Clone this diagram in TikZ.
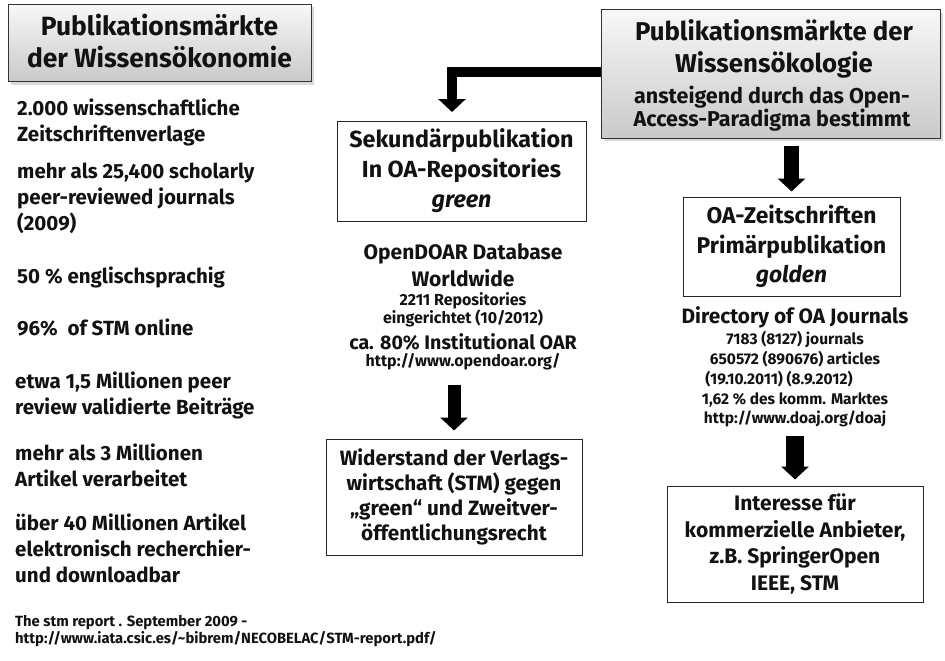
\documentclass[tikz,border=0pt]{standalone}
\usepackage{fontspec}
\setmainfont{Fira Sans}
\usetikzlibrary{arrows.meta,shadows}
\newcommand{\fs}[2]{\fontsize{#1}{#2}\selectfont\bfseries}
\begin{document}
\begin{tikzpicture}[x=1pt,y=-1pt,
  every node/.style={inner sep=0pt, align=center, text=black!93},
  graybox/.style={draw=black!80, line width=1pt, top color=gray!6, bottom color=gray!42,
    drop shadow={shadow xshift=3pt, shadow yshift=-3pt, opacity=0.3}},
  wbox/.style={draw=black!85, line width=1pt, fill=white},
  bigarrow/.style={line width=#1, -{Triangle[width=27pt,length=13pt]}},
  bigarrow/.default=13pt,
  leftitem/.style={anchor=west, align=left, font=\fs{20.5}{26}},
]
\useasboundingbox (0,0) rectangle (945,661);

% arrows (drawn first, boxes cover their starts)
\coordinate (elbstart) at (620,72);
\coordinate (sektip) at (452,112);
\draw[bigarrow=10pt, line join=miter] (elbstart) -| (sektip);

% boxes
\node[graybox, minimum width=303, minimum height=77] (tl) at (159.5,43) {};
\node[font=\fs{26.4}{32}] (tlt) at (159.5,41) {Publikationsmärkte\\der Wissensökonomie};

\node[graybox, minimum width=339, minimum height=128] (tr) at (770.5,74) {};
\node[font=\fs{25.8}{32}] (trt) at (774,49) {Publikationsmärkte der\\Wissensökologie};
\node[font=\fs{21.5}{23}] (trs) at (772,108.5) {ansteigend durch das Open-\\Access-Paradigma bestimmt};

\node[wbox, minimum width=249, minimum height=100, font=\fs{23.3}{30}] (sek) at (461.5,171)
  {Sekundärpublikation\\In OA-Repositories\\\itshape green};

\node[font=\fs{21}{27}] (od1) at (463,265.5) {OpenDOAR Database\\Worldwide};
\node[font=\fs{16}{17}] (od2) at (463,310) {2211 Repositories\\eingerichtet (10/2012)};
\node[font=\fs{19.6}{20}] (od3) at (463,342) {ca. 80\% Institutional OAR};
\node[font=\fs{16}{17}] (od4) at (463,362) {http://www.opendoar.org/};

\node[wbox, minimum width=256, minimum height=116, font=\fs{20.7}{25}] (wid) at (454,497)
  {Widerstand der Verlags-\\wirtschaft (STM) gegen\\„green“ und Zweitver-\\öffentlichungsrecht};

\node[wbox, minimum width=217, minimum height=99, font=\fs{22.8}{29.5}] (oaz) at (791.5,246.5)
  {OA-Zeitschriften\\Primärpublikation\\\itshape golden};

\node[font=\fs{20.8}{24}] (dj1) at (795,317) {Directory of OA Journals};
\node[font=\fs{15.5}{19.75}] (dj2) at (795,379.5)
  {7183 (8127) journals\\650572 (890676) articles\\\mbox{(19.10.2011) (8.9.2012)\hspace{32pt}}\\1,62 \% des komm. Marktes\\http://www.doaj.org/doaj};

\node[wbox, minimum width=256, minimum height=116, font=\fs{21}{26.5}] (int) at (795,544)
  {Interesse für\\kommerzielle Anbieter,\\z.B. SpringerOpen\\IEEE, STM};

% straight arrows
\draw[bigarrow=13pt] (wid.north |- 0,385) -- ([yshift=8pt]wid.north);
\path (oaz.north |- tr.south) ++(0,7) coordinate (a3s);
\draw[bigarrow=15pt] (a3s) -- ([yshift=5pt]oaz.north);
\draw[bigarrow=18pt] (int.north |- 0,436) -- ([yshift=6pt]int.north);

% left column
\node[leftitem] (l1) at (17,122.5) {2.000 wissenschaftliche\\Zeitschriftenverlage};
\node[leftitem] (l2) at (17,198.5) {mehr als 25,400 scholarly\\peer-reviewed journals\\(2009)};
\node[leftitem] (l3) at (17,277) {50 \% englischsprachig};
\node[leftitem] (l4) at (17,328) {96\%\ \ of STM online};
\node[leftitem] (l5) at (15,395.5) {etwa 1,5 Millionen peer\\review validierte Beiträge};
\node[leftitem] (l6) at (15,465) {mehr als 3 Millionen\\Artikel verarbeitet};
\node[leftitem] (l7) at (15,548.5) {über 40 Millionen Artikel\\elektronisch recherchier-\\und downloadbar};
\node[anchor=west, align=left, font=\fs{14.8}{17}] (ref) at (15,631.5)
  {The stm report . September 2009 -\\http://www.iata.csic.es/\textasciitilde bibrem/NECOBELAC/STM-report.pdf/};
\end{tikzpicture}
\end{document}
